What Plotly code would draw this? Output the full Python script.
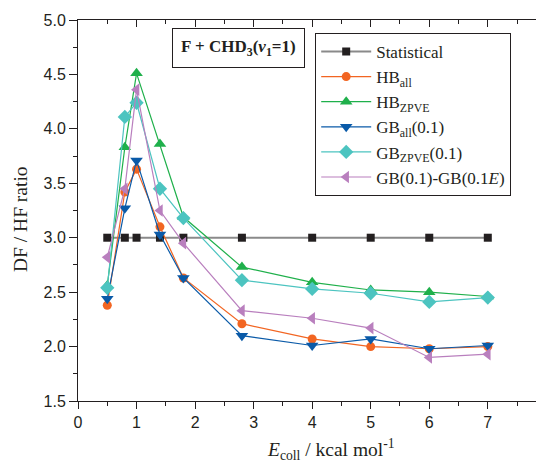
import plotly.graph_objects as go

x_vals = [0.5, 0.8, 1.0, 1.4, 1.8, 2.8, 4.0, 5.0, 6.0, 7.0]
statistical = [3.0, 3.0, 3.0, 3.0, 3.0, 3.0, 3.0, 3.0, 3.0, 3.0]
hb_all = [2.38, 3.42, 3.63, 3.10, 2.63, 2.21, 2.07, 2.00, 1.98, 2.00]
hb_zpve = [2.56, 3.83, 4.51, 3.86, 3.19, 2.73, 2.59, 2.52, 2.50, 2.46]
gb_all = [2.44, 3.27, 3.71, 3.03, 2.63, 2.10, 2.01, 2.07, 1.98, 2.01]
gb_zpve = [2.54, 4.11, 4.24, 3.45, 3.18, 2.61, 2.53, 2.49, 2.41, 2.45]
gb_e = [2.82, 3.45, 4.36, 3.25, 2.95, 2.33, 2.26, 2.17, 1.90, 1.93]

names = ["Statistical", "HB<sub>all</sub>", "HB<sub>ZPVE</sub>", "GB<sub>all</sub>(0.1)",
         "GB<sub>ZPVE</sub>(0.1)", "GB(0.1)-GB(0.1<i>E</i>)"]
series = [statistical, hb_all, hb_zpve, gb_all, gb_zpve, gb_e]
line_colors = ["#8a8a8a", "#f26522", "#1fb04b", "#0a5aa8", "#4cc4c0", "#b97fbe"]
marker_colors = ["#231f20", "#f26522", "#1fb04b", "#0a5aa8", "#4cc4c0", "#b97fbe"]
symbols = ["square", "circle", "triangle-up", "triangle-down", "diamond", "triangle-left"]
sizes = [8, 9, 11, 11, 11, 11]
widths = [2, 1.2, 1.2, 1.2, 1.2, 1.2]

fig = go.Figure()
for n, s, lc, mc, sym, sz, w in zip(names, series, line_colors, marker_colors, symbols, sizes, widths):
    fig.add_trace(go.Scatter(x=x_vals, y=s, name=n, mode="lines+markers",
                             line=dict(color=lc, width=w),
                             marker=dict(symbol=sym, size=sz, color=mc, line=dict(width=0))))

fig.add_trace(go.Scatter(x=[None], y=[None], xaxis="x2", yaxis="y2", showlegend=False,
                         hoverinfo="skip"))

axcol = "#231f20"
tickfont = dict(family="Liberation Sans", size=16, color=axcol)
serif = "Liberation Serif"
xr = [0, 7.96]
yr = [1.5, 5.0]

fig.update_layout(
    width=536, height=455,
    margin=dict(l=70, r=0, t=12, b=62),
    paper_bgcolor="white", plot_bgcolor="white",
    showlegend=True,
    legend=dict(x=0.509, y=0.966, xanchor="left", yanchor="top",
                bordercolor=axcol, borderwidth=1, bgcolor="white",
                font=dict(family=serif, size=17, color=axcol),
                tracegroupgap=0, itemwidth=50),
    xaxis=dict(range=xr, showgrid=False, zeroline=False, showline=True, linecolor=axcol,
               linewidth=1, ticks="outside", ticklen=7, tickcolor=axcol, dtick=1, tick0=0,
               tickfont=tickfont,
               minor=dict(dtick=0.5, ticks="outside", ticklen=4, tickcolor=axcol)),
    yaxis=dict(range=yr, showgrid=False, zeroline=False, showline=True, linecolor=axcol,
               linewidth=1, ticks="outside", ticklen=8, tickcolor=axcol, dtick=0.5, tick0=1.5,
               tickformat=".1f", tickfont=tickfont,
               minor=dict(dtick=0.25, ticks="outside", ticklen=4, tickcolor=axcol)),
    xaxis2=dict(range=xr, overlaying="x", side="top", showgrid=False, zeroline=False,
                showline=True, linecolor=axcol, linewidth=1, ticks="inside", ticklen=7,
                tickcolor=axcol, dtick=1, tick0=0, showticklabels=False,
                minor=dict(dtick=0.5, ticks="inside", ticklen=4, tickcolor=axcol)),
    yaxis2=dict(range=yr, overlaying="y", side="right", showgrid=False, zeroline=False,
                showline=False, ticks="inside", ticklen=7, tickcolor=axcol, dtick=0.5,
                tick0=1.5, showticklabels=False,
                minor=dict(dtick=0.25, ticks="inside", ticklen=3, tickcolor=axcol)),
    annotations=[
        dict(text="<b>F + CHD<sub>3</sub>(<i>ν</i><sub>1</sub>=1)</b>", xref="paper", yref="paper",
             x=0.344, y=0.927, xanchor="center", yanchor="middle", showarrow=False,
             font=dict(family=serif, size=17, color=axcol),
             bordercolor=axcol, borderwidth=1, borderpad=8, bgcolor="white"),
        dict(text="DF / HF ratio", xref="paper", yref="paper", x=-0.122, y=0.478,
             xanchor="center", yanchor="middle", textangle=-90, showarrow=False,
             font=dict(family=serif, size=19.5, color=axcol)),
        dict(text="<i>E</i><sub>coll</sub> / kcal mol<sup>-1</sup>", xref="paper", yref="paper",
             x=0.543, y=-0.128, xanchor="center", yanchor="middle", showarrow=False,
             font=dict(family=serif, size=19.5, color=axcol)),
    ],
)

fig.write_html("out.html")
